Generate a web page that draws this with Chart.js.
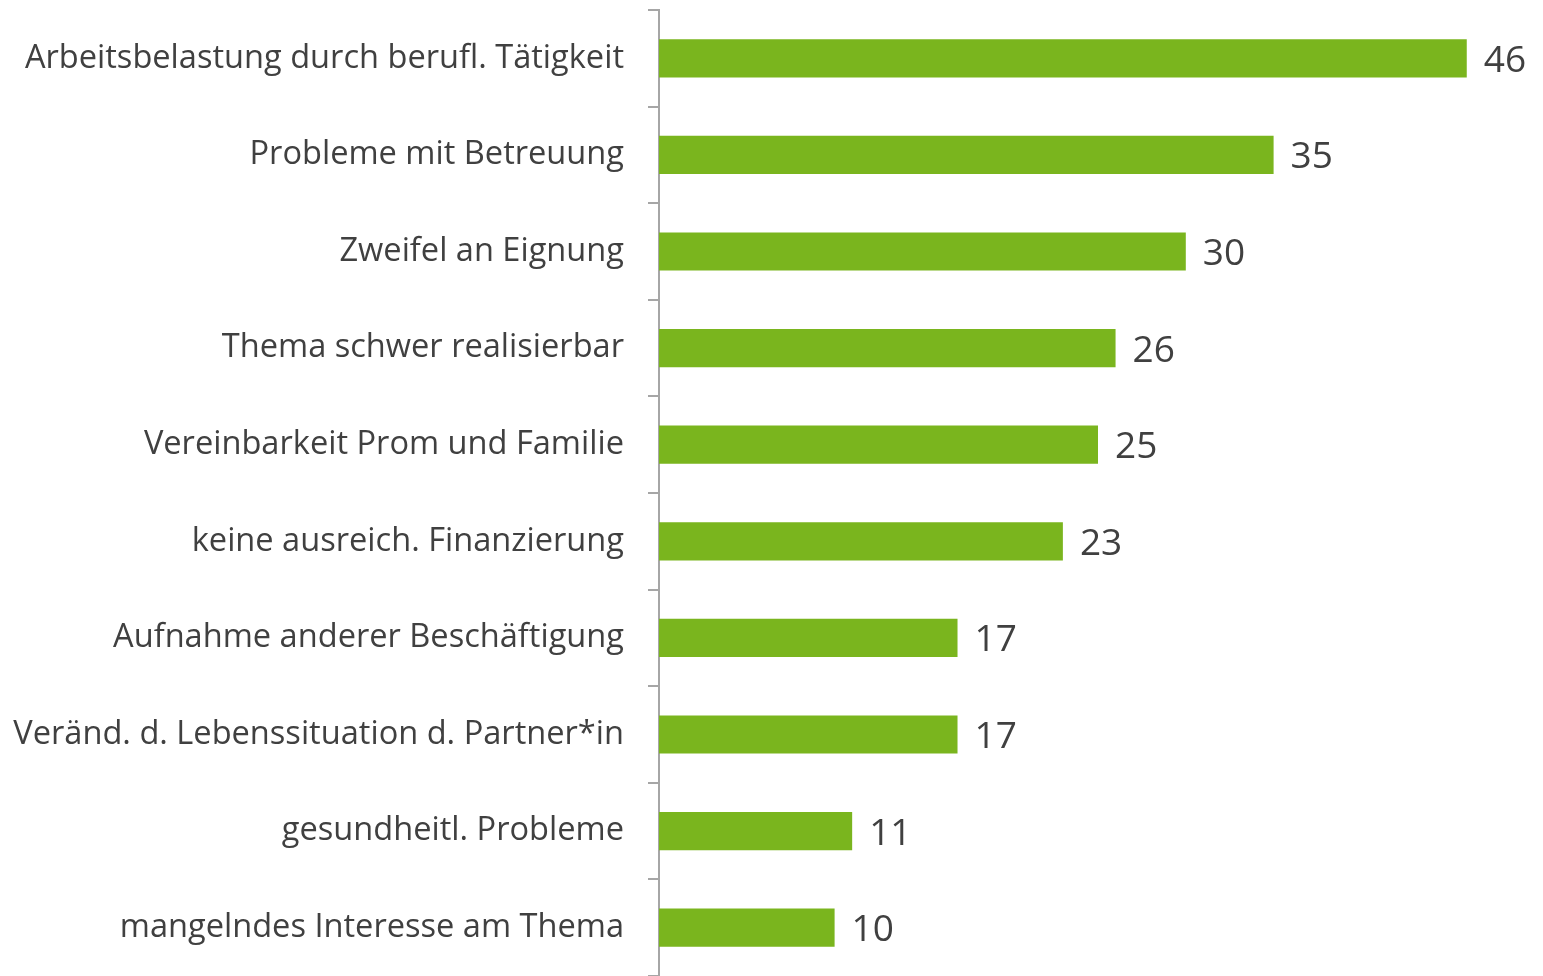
<!DOCTYPE html>
<html>
<head>
<meta charset="utf-8">
<script src="https://cdn.jsdelivr.net/npm/chart.js@4.4.1/dist/chart.umd.min.js"></script>
<style>
  html, body { margin: 0; padding: 0; background: #fff; }
  #wrap { width: 1543px; height: 976px; }
</style>
</head>
<body>
<div id="wrap"><canvas id="barChart"></canvas></div>
<script>
const categories = [
    "Arbeitsbelastung durch berufl. Tätigkeit",
    "Probleme mit Betreuung",
    "Zweifel an Eignung",
    "Thema schwer realisierbar",
    "Vereinbarkeit Prom und Familie",
    "keine ausreich. Finanzierung",
    "Aufnahme anderer Beschäftigung",
    "Veränd. d. Lebenssituation d. Partner*in",
    "gesundheitl. Probleme",
    "mangelndes Interesse am Thema"
];
const values = [46, 35, 30, 26, 25, 23, 17, 17, 11, 10];

const textColor = "#404040";
const axisColor = "#a6a6a6";

// draws the numbers next to each bar end
const valueLabels = {
    id: "valueLabels",
    afterDatasetsDraw(chart) {
        const ctx = chart.ctx;
        const meta = chart.getDatasetMeta(0);
        ctx.save();
        ctx.font = "37px 'Open Sans'";
        ctx.fillStyle = textColor;
        ctx.textAlign = "left";
        ctx.textBaseline = "middle";
        meta.data.forEach(function (bar, i) {
            ctx.fillText(String(values[i]), bar.x + 17, bar.y + 3);
        });
        ctx.restore();
    }
};

document.addEventListener("DOMContentLoaded", function () {
    const ctx = document.getElementById("barChart");

    new Chart(ctx, {
        type: "bar",
        data: {
            labels: categories,
            datasets: [{
                data: values,
                backgroundColor: "#7ab51e",
                borderWidth: 0,
                barPercentage: 0.395,
                categoryPercentage: 1
            }]
        },
        options: {
            indexAxis: "y",
            responsive: true,
            maintainAspectRatio: false,
            animation: false,
            layout: { padding: { top: 10, right: 6, bottom: 0, left: 0 } },
            plugins: {
                legend: { display: false },
                tooltip: { enabled: false }
            },
            scales: {
                x: {
                    display: false,
                    min: 0,
                    max: 50
                },
                y: {
                    offset: true,
                    afterFit: function (scale) {
                        scale.width = 659;
                        scale.paddingTop = 0;
                        scale.paddingBottom = 0;
                    },
                    border: { display: true, color: axisColor, width: 2 },
                    grid: {
                        offset: true,
                        drawOnChartArea: false,
                        drawTicks: true,
                        tickLength: 11,
                        color: axisColor,
                        lineWidth: 2
                    },
                    ticks: {
                        color: textColor,
                        font: { family: "'Open Sans'", size: 32.6 },
                        padding: 24
                    }
                }
            }
        },
        plugins: [valueLabels]
    });
});
</script>
</body>
</html>
